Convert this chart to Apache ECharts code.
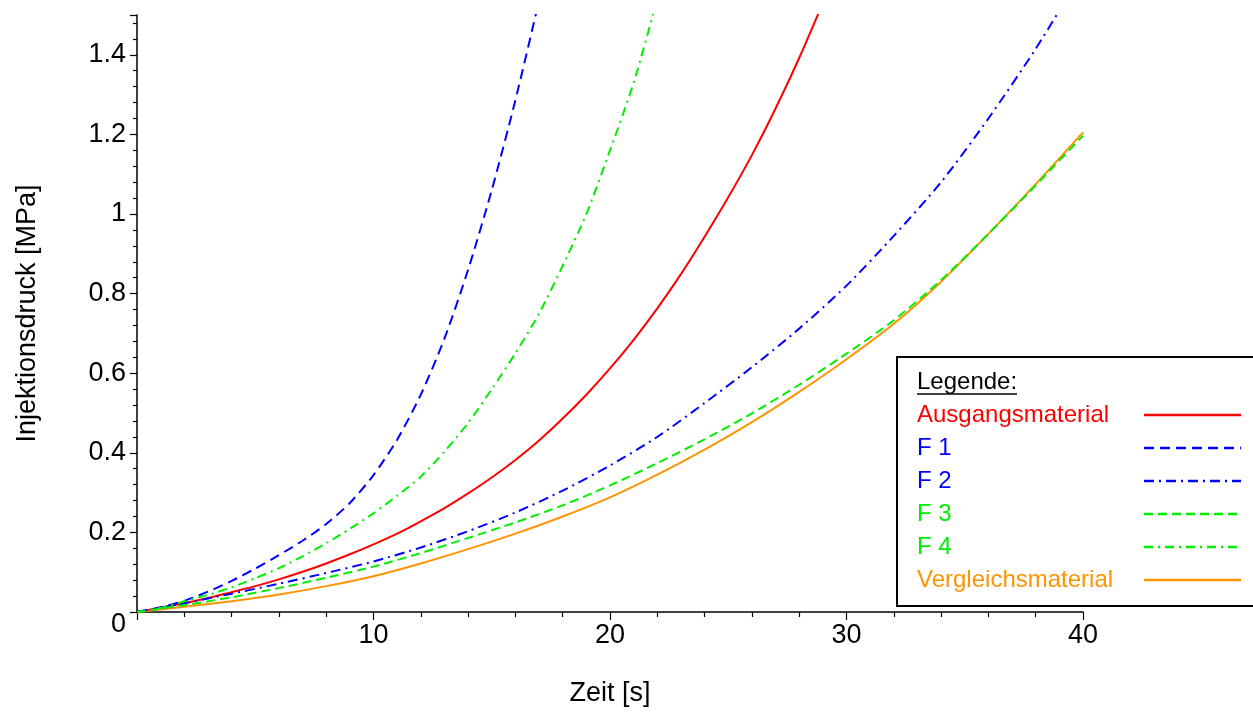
<!DOCTYPE html>
<html><head><meta charset="utf-8">
<script src="https://cdn.jsdelivr.net/npm/echarts@6/dist/echarts.min.js"></script>
<style>html,body{margin:0;padding:0;background:#fff}#c{width:1253px;height:712px}</style>
</head><body><div id="c"></div>
<script>
const seriesNames = ['Ausgangsmaterial', 'F 1', 'F 2', 'F 3', 'F 4', 'Vergleichsmaterial'];
const seriesColors = ['#ff0000', '#0000ff', '#0000ff', '#00ee00', '#00ee00', '#ff9400'];
const xTitle = 'Zeit [s]';
const yTitle = 'Injektionsdruck [MPa]';
const legendTitle = 'Legende:';

// time values (s)
const tFine = [0,1,2,3,4,5,6,7,8,9,10,11,12,13,14,15,16,17,18,19,20,21,22,23,24,25,26,27,28,29];
const tCoarse = [0,2,4,6,8,10,12,14,16,18,20,22,24,26,28,30,32,34,36,38,40];

// pressures (MPa)
const ausgangsmaterial = [0,0.011,0.022,0.035,0.05,0.065,0.082,0.101,0.122,0.145,0.17,0.197,0.228,0.261,0.298,0.338,0.382,0.431,0.486,0.546,0.612,0.684,0.763,0.849,0.943,1.042,1.148,1.265,1.392,1.53];
const f1 = [0,0.012,0.028,0.051,0.078,0.109,0.143,0.179,0.221,0.274,0.344,0.433,0.546,0.687,0.86,1.06,1.286,1.536];
const f4 = [0,0.01,0.027,0.043,0.062,0.085,0.11,0.14,0.173,0.209,0.248,0.292,0.34,0.403,0.475,0.56,0.65,0.75,0.87,1.0,1.16,1.33,1.54];
const f2 = [0,0.022,0.046,0.071,0.098,0.127,0.162,0.203,0.25,0.305,0.368,0.44,0.525,0.615,0.712,0.82,0.945,1.08,1.24,1.415,1.61];
const f3 = [0,0.017,0.037,0.06,0.086,0.114,0.148,0.186,0.225,0.268,0.318,0.374,0.434,0.499,0.571,0.649,0.733,0.834,0.95,1.072,1.197];
const vergleich = [0,0.013,0.027,0.044,0.065,0.09,0.122,0.158,0.197,0.24,0.288,0.345,0.408,0.477,0.553,0.635,0.724,0.83,0.95,1.075,1.205];

const dashTypes = ['solid', [10,6], [10,5,2,5], [9,5], [9,5,2,5], 'solid'];
const seriesValues = [ausgangsmaterial, f1, f2, f3, f4, vergleich];
const seriesTimes = [tFine, tFine, tCoarse, tCoarse, tFine, tCoarse];

const FONT = '"Liberation Sans", Arial, sans-serif';
const chart = echarts.init(document.getElementById('c'), null, {renderer: 'canvas'});

const series = seriesNames.map((name, i) => ({
  name,
  type: 'line',
  data: seriesValues[i].map((v, k) => [seriesTimes[i][k], v]),
  showSymbol: false,
  symbol: 'none',
  smooth: 0.25,
  clip: true,
  lineStyle: {color: seriesColors[i], width: 2, type: dashTypes[i]},
  itemStyle: {color: seriesColors[i]},
  z: 3 + (i === 5 ? 0 : 1)
}));

chart.setOption({
  backgroundColor: '#fff',
  animation: false,
  grid: {left: 137, right: 170, top: 15, bottom: 100},
  xAxis: {
    type: 'value', min: 0, max: 40, interval: 10,
    name: xTitle, nameLocation: 'middle', nameGap: 68,
    nameTextStyle: {fontSize: 27, color: '#000', fontFamily: FONT},
    axisLine: {show: true, lineStyle: {color: '#000', width: 1.5}},
    axisTick: {show: true, length: 8, lineStyle: {color: '#000', width: 1.2}},
    minorTick: {show: true, splitNumber: 5, length: 5, lineStyle: {color: '#000', width: 1.2}},
    splitLine: {show: false},
    axisLabel: {fontSize: 27, color: '#000', fontFamily: FONT, margin: 10,
      formatter: v => v === 0 ? '' : String(v)}
  },
  yAxis: {
    type: 'value', min: 0, max: 1.5, interval: 0.2,
    name: yTitle, nameLocation: 'middle', nameGap: 96,
    nameTextStyle: {fontSize: 27, color: '#000', fontFamily: FONT},
    axisLine: {show: true, onZero: false, lineStyle: {color: '#000', width: 1.5}},
    axisTick: {show: true, length: 7, lineStyle: {color: '#000', width: 1.2}},
    minorTick: {show: true, splitNumber: 5, length: 4, lineStyle: {color: '#000', width: 1.2}},
    splitLine: {show: false},
    axisLabel: {fontSize: 27, color: '#000', fontFamily: FONT, margin: 11,
      formatter: v => {
        const r = Math.round(v * 10) / 10;
        if (Math.abs(v - 1.5) < 1e-6) return '';
        if (r === 0) return '{z|0}';
        return String(r);
      },
      rich: {z: {fontSize: 27, color: '#000', fontFamily: FONT, padding: [26, 0, 0, 0]}}
    }
  },
  legend: {
    orient: 'vertical', left: 897, top: 357,
    padding: [46, 400, 14, 20],
    borderColor: '#000', borderWidth: 2, backgroundColor: '#fff',
    itemGap: 9, itemWidth: 97, itemHeight: 14, align: 'right',
    itemStyle: {opacity: 0},
    lineStyle: {width: 2.5},
    textStyle: {fontSize: 24, fontFamily: FONT, lineHeight: 24},
    formatter: n => '{a|' + n + '}',
    data: seriesNames.map((n, i) => ({name: n, textStyle: {color: seriesColors[i],
      rich: {a: {width: 222, align: 'left', fontSize: 24, fontFamily: FONT, color: seriesColors[i]}}}}))
  },
  graphic: [
    {type: 'text', left: 917, top: 370, z: 100,
      style: {text: legendTitle, font: '24px ' + FONT, fill: '#000'}},
    {type: 'line', z: 100, shape: {x1: 917, y1: 394, x2: 1017, y2: 394},
      style: {stroke: '#000', lineWidth: 1.5}}
  ],
  series
});
</script></body></html>
